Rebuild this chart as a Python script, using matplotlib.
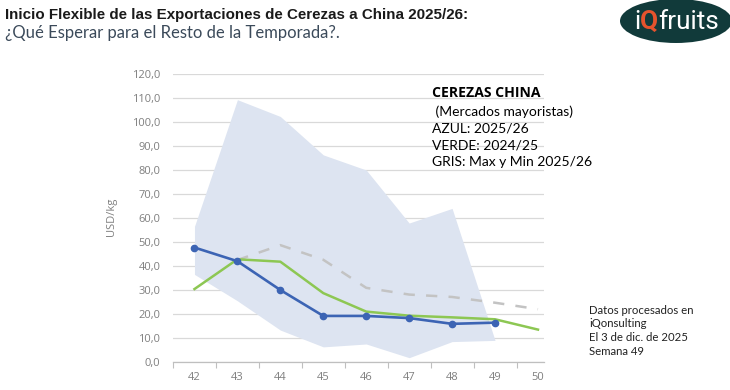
import matplotlib
matplotlib.use("Agg")
import matplotlib.pyplot as plt
from matplotlib.patches import Ellipse
from matplotlib.transforms import Bbox, TransformedBbox
from matplotlib.ticker import FixedLocator

# ---- data ----
weeks = [42, 43, 44, 45, 46, 47, 48, 49, 50]
blue_weeks = [42, 43, 44, 45, 46, 47, 48, 49]
blue_2025_26 = [47.7, 42.0, 30.0, 19.2, 19.2, 18.3, 15.9, 16.4]
green_weeks = [42, 43, 44, 45, 46, 47, 48, 49, 50]
green_2024_25 = [30.4, 42.8, 41.8, 28.7, 21.0, 19.3, 18.6, 17.8, 13.5]
grey_weeks = [43, 44, 45, 46, 47, 48, 49, 50]
grey_dashed = [42.5, 48.7, 42.6, 30.9, 28.1, 27.1, 24.7, 22.0]
band_weeks = [42, 43, 44, 45, 46, 47, 48, 49]
band_max = [56.5, 109.3, 102.3, 86.3, 80.0, 57.9, 64.0, 9.0]
band_min = [36.5, 25.5, 13.3, 6.3, 7.5, 1.8, 8.5, 9.0]
yticks = [0, 10, 20, 30, 40, 50, 60, 70, 80, 90, 100, 110, 120]
ytick_labels = ["0,0", "10,0", "20,0", "30,0", "40,0", "50,0", "60,0", "70,0",
                "80,0", "90,0", "100,0", "110,0", "120,0"]
xtick_labels = ["42", "43", "44", "45", "46", "47", "48", "49", "50"]

title = "Inicio Flexible de las Exportaciones de Cerezas a China 2025/26:"
subtitle = "¿Qué Esperar para el Resto de la Temporada?."
box_lines = [" (Mercados mayoristas)", "AZUL: 2025/26", "VERDE: 2024/25",
             "GRIS: Max y Min 2025/26"]
note_lines = ["Datos procesados en", "iQonsulting", "El 3 de dic. de 2025", "Semana 49"]

W, H = 730, 390
fig = plt.figure(figsize=(W / 100, H / 100), dpi=100)
fig.patch.set_facecolor("white")

def fx(px):
    return px / W

def fy(py):
    return 1 - py / H

ax = fig.add_axes([fx(173), fy(362), fx(544) - fx(173), fy(74) - fy(362)])
ax.set_xlim(41.5, 50.14)
ax.set_ylim(0, 120)

ax.fill_between(band_weeks, band_min, band_max, color="#dde4f1", lw=0, zorder=1)
ax.plot(grey_weeks, grey_dashed, color="#c3c3c3", lw=1.8, dashes=(4.5, 4.5), zorder=2)
ax.plot(green_weeks, green_2024_25, color="#8dc753", lw=1.8, zorder=3)
ax.plot(blue_weeks, blue_2025_26, color="#3c64b4", lw=1.9, marker="o",
        markersize=4.5, zorder=4)

ax.set_yticks(yticks)
ax.set_yticklabels(ytick_labels)
ax.set_xticks(weeks)
ax.set_xticklabels(xtick_labels)
ax.xaxis.set_minor_locator(FixedLocator([w - 0.5 for w in weeks] + [50.5]))
ax.tick_params(axis="y", length=0, pad=9, labelsize=8, labelcolor="#7f7f7f")
ax.tick_params(axis="x", which="major", length=0, pad=7, labelsize=8, labelcolor="#7f7f7f")
ax.tick_params(axis="x", which="minor", length=4, width=0.8, color="#bfbfbf")
for lab in ax.get_yticklabels() + ax.get_xticklabels():
    lab.set_fontfamily(["Open Sans", "DejaVu Sans"])

ax.grid(axis="y", color="#d9d9d9", lw=0.9, zorder=0)
ax.set_axisbelow(True)
for s in ["top", "right", "left"]:
    ax.spines[s].set_visible(False)
ax.spines["bottom"].set_color("#bfbfbf")
ax.spines["bottom"].set_linewidth(0.9)

ax.set_ylabel("USD/kg", fontsize=8, color="#7f7f7f", family=["Open Sans", "DejaVu Sans"])
ax.yaxis.set_label_coords((117 - 173) / (544 - 173), (362 - 217) / (362 - 74))

clip = TransformedBbox(Bbox([[0, 0], [fx(544), 1]]), fig.transFigure)
for lab in ax.get_xticklabels():
    lab.set_clip_on(True)
    lab.set_clip_box(clip)

# annotation box
fig.text(fx(432), fy(93), "CEREZAS CHINA", fontsize=10.1, fontweight="bold",
         color="black", va="center", ha="left", family=["Open Sans", "DejaVu Sans"])
ys = [112, 128.5, 145, 161.5]
for line, yy in zip(box_lines, ys):
    fig.text(fx(432), fy(yy), line, fontsize=10, color="black", va="center",
             ha="left", family=["Lato", "DejaVu Sans"])

# note bottom-right
for i, line in enumerate(note_lines):
    fig.text(fx(589), fy(310 + i * 13.7), line, fontsize=8.2, color="#222222",
             va="center", ha="left", family=["Lato", "DejaVu Sans"])

# titles
fig.text(fx(5), fy(15), title, fontsize=10.9, fontweight="bold", color="#1a1a1a",
         va="center", ha="left", family=["Liberation Sans", "DejaVu Sans"])
fig.text(fx(5), fy(33), subtitle, fontsize=12, color="#3b4a5a",
         va="center", ha="left", family=["Lato", "DejaVu Sans"])

# logo
logo = Ellipse((fx(676), fy(21)), fx(112), 44 / H, transform=fig.transFigure,
               facecolor="#113a3a", edgecolor="none")
fig.add_artist(logo)
fig.canvas.draw()
r = fig.canvas.get_renderer()
x0 = 634
t1 = fig.text(fx(x0), fy(22), "i", fontsize=18.8, color="white", va="center",
              ha="left", family=["Roboto", "DejaVu Sans"])
bb = t1.get_window_extent(r)
t2 = fig.text(bb.x1 / W, fy(22), "Q", fontsize=18.8, color="#e5532d", va="center",
              ha="left", family=["Roboto", "DejaVu Sans"], fontweight="bold")
bb2 = t2.get_window_extent(r)
fig.text(bb2.x1 / W, fy(22), "fruits", fontsize=18.8, color="white", va="center",
         ha="left", family=["Roboto", "DejaVu Sans"])

fig.savefig("out.png", dpi=100)
